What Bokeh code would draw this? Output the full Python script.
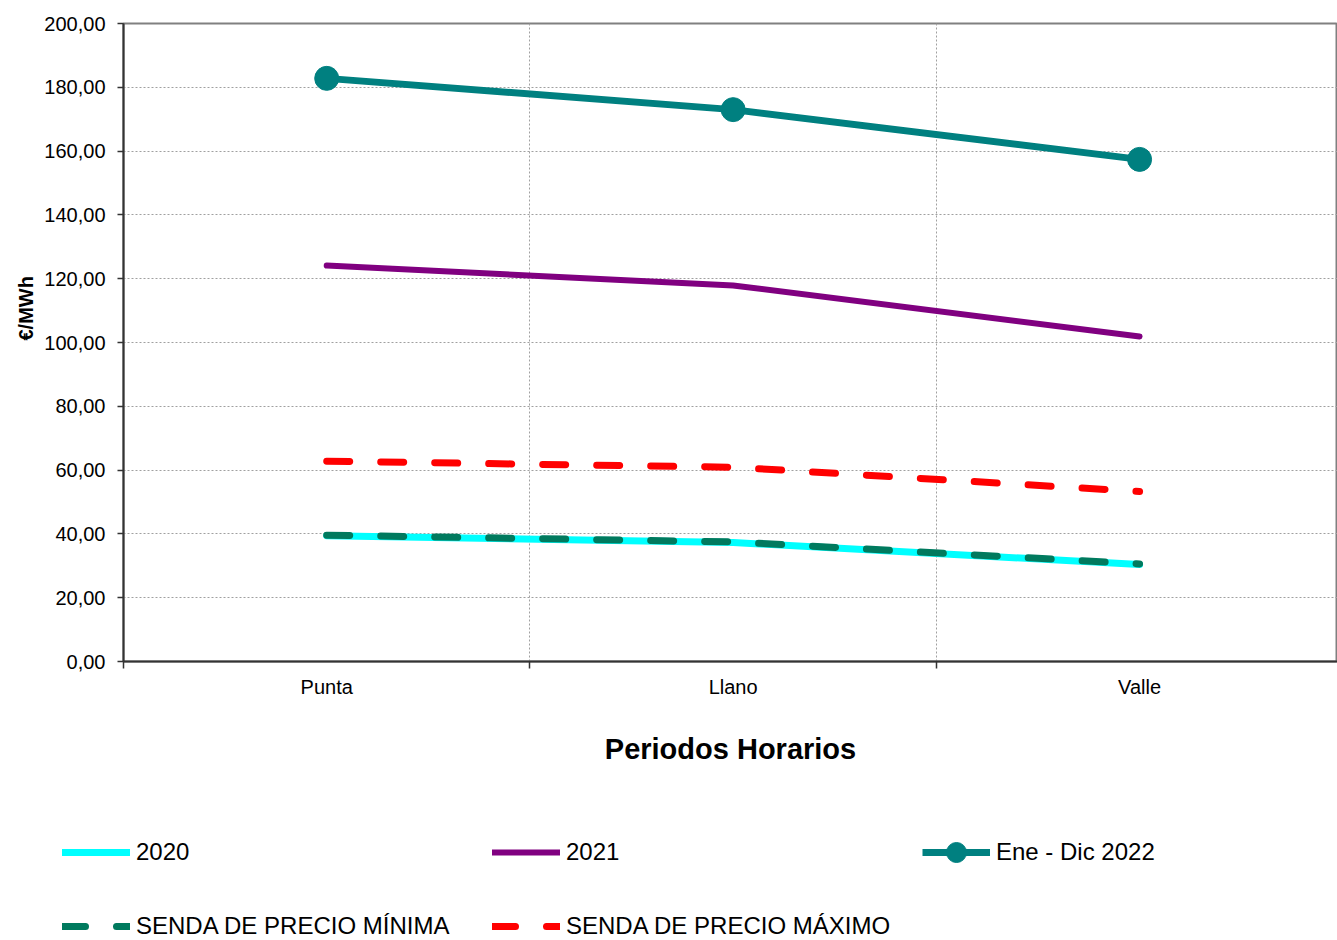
from bokeh.plotting import figure
from bokeh.layouts import column, row
from bokeh.models import Range1d, FixedTicker, Legend, LegendItem, Title
from bokeh.embed import file_html
from bokeh.resources import INLINE

# ---- data ----
categories = ["Punta", "Llano", "Valle"]
v2020 = [39.4, 37.3, 30.4]
v2021 = [124.1, 117.9, 101.9]
v2022 = [182.8, 173.0, 157.4]
senda_min = [39.6, 37.5, 30.6]
senda_max = [62.8, 60.9, 53.3]
y_ticks = [0, 20, 40, 60, 80, 100, 120, 140, 160, 180, 200]
y_tick_labels = ["0,00", "20,00", "40,00", "60,00", "80,00", "100,00",
                 "120,00", "140,00", "160,00", "180,00", "200,00"]
series_labels = ["2020", "2021", "Ene - Dic 2022",
                 "SENDA DE PRECIO MÍNIMA", "SENDA DE PRECIO MÁXIMO"]

FONT = "Liberation Sans"
x = [i + 0.5 for i in range(len(categories))]
bounds = list(range(len(categories) + 1))

p = figure(width=1337, height=790, output_backend="svg", toolbar_location=None,
           x_range=Range1d(0, 2.987), y_range=Range1d(0, 200),
           min_border_left=123, min_border_right=0, min_border_top=23,
           min_border_bottom=129)
p.background_fill_color = "white"
p.border_fill_color = "white"
p.outline_line_color = "#808080"
p.outline_line_width = 2

# x axis
xa = p.xaxis[0]
xa.ticker = FixedTicker(ticks=x, minor_ticks=bounds)
xa.major_label_overrides = {xv: c for xv, c in zip(x, categories)}
xa.major_tick_line_color = None
xa.major_tick_out = 0
xa.major_tick_in = 0
xa.minor_tick_line_color = "#333333"
xa.minor_tick_line_width = 1.5
xa.minor_tick_out = 7
xa.minor_tick_in = 0
xa.axis_line_color = "#333333"
xa.axis_line_width = 2
xa.major_label_text_font = FONT
xa.major_label_text_font_size = "20px"
xa.major_label_text_color = "black"
xa.major_label_standoff = 7
xa.axis_label = "Periodos Horarios"
xa.axis_label_text_font = FONT
xa.axis_label_text_font_size = "29px"
xa.axis_label_text_font_style = "bold"
xa.axis_label_text_color = "black"
xa.axis_label_standoff = 32

# y axis
ya = p.yaxis[0]
ya.ticker = FixedTicker(ticks=y_ticks, minor_ticks=[])
ya.major_label_overrides = {t: l for t, l in zip(y_ticks, y_tick_labels)}
ya.major_tick_line_color = "#333333"
ya.major_tick_line_width = 1.5
ya.major_tick_out = 6
ya.major_tick_in = 0
ya.axis_line_color = "#333333"
ya.axis_line_width = 2
ya.major_label_text_font = FONT
ya.major_label_text_font_size = "20px"
ya.major_label_text_color = "black"
ya.major_label_standoff = 12

# grids
p.xgrid.ticker = FixedTicker(ticks=bounds[1:-1])
for g in (p.xgrid[0], p.ygrid[0]):
    g.grid_line_color = "#a0a0a0"
    g.grid_line_dash = "2 2"
    g.grid_line_width = 1

# styles per series (same order as series_labels)
styles = [
    dict(line_color="#00FFFF", line_width=7, line_cap="round"),
    dict(line_color="#800080", line_width=6, line_cap="round"),
    dict(line_color="#008080", line_width=7),
    dict(line_color="#007A5E", line_width=7, line_dash="23 31", line_cap="round"),
    dict(line_color="#FF0000", line_width=7, line_dash="23 31", line_cap="round"),
]
values = [v2020, v2021, v2022, senda_min, senda_max]
for vals, st in zip(values, styles):
    p.line(x, vals, **st)
p.scatter(x, v2022, size=24, fill_color="#008080", line_color="#008080")

ytitle = Title(text="€/MWh", align="left", offset=321,
               text_font=FONT, text_font_size="20px", text_font_style="bold",
               text_color="black")
p.add_layout(ytitle, "left")

# ---- legend strip (separate figure below; series drawn out of its view) ----
q = figure(width=1337, height=150, output_backend="svg", toolbar_location=None,
           x_range=Range1d(0, 1), y_range=Range1d(0, 1),
           min_border_left=0, min_border_right=0, min_border_top=0,
           min_border_bottom=0, x_axis_type=None, y_axis_type=None)
q.grid.visible = False
q.outline_line_color = None
q.background_fill_color = "white"
q.border_fill_color = "white"
items = []
for lab, vals, st in zip(series_labels, values, styles):
    rs = [q.line(x, vals, **st)]
    if lab == "Ene - Dic 2022":
        rs.append(q.scatter(x, vals, size=15, fill_color="#008080",
                            line_color="#008080"))
    items.append(LegendItem(label=lab, renderers=rs))

legend = Legend(items=items, location=(62, -11), orientation="horizontal", ncols=3,
                glyph_width=68, glyph_height=50, label_height=50, label_width=332,
                label_standoff=6, spacing=24, padding=0, margin=0,
                border_line_color=None, background_fill_alpha=0,
                label_text_font=FONT, label_text_font_size="24px",
                label_text_color="black")
q.add_layout(legend)

open("out.html", "w").write(file_html(column(p, row(q)), INLINE))
